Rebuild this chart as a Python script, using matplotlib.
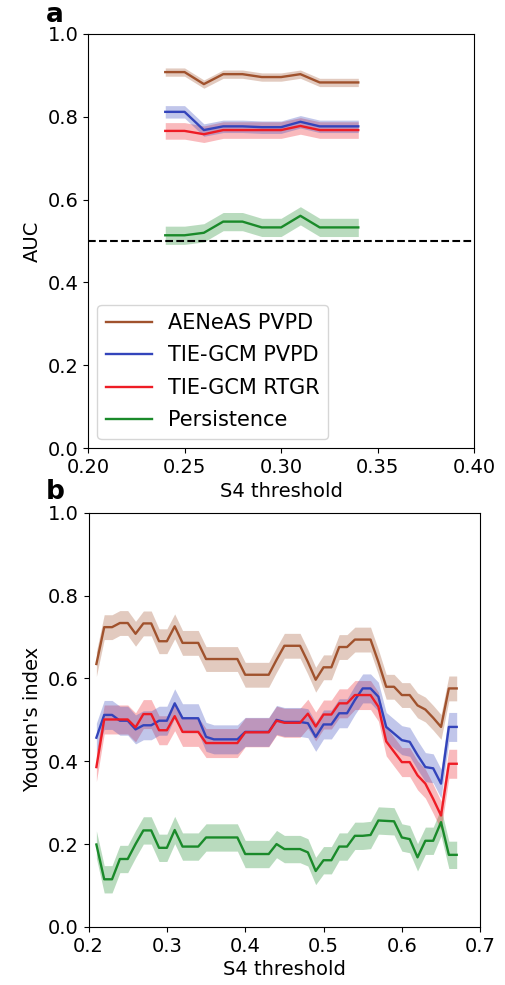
import numpy as np
import matplotlib
matplotlib.use('Agg')
import matplotlib.pyplot as plt

plt.rcParams['font.family'] = ['DejaVu Sans']
plt.rcParams['font.size'] = 14

COLORS = {'brown': '#a0522d', 'blue': '#3344bb', 'red': '#ee1c25', 'green': '#1a8a2a'}
LABELS = ['AENeAS PVPD', 'TIE-GCM PVPD', 'TIE-GCM RTGR', 'Persistence']

# panel a: AUC
s4_a = [0.24, 0.25, 0.26, 0.27, 0.28, 0.29, 0.30, 0.31, 0.32, 0.33, 0.34]
auc_aeneas = [0.908, 0.908, 0.879, 0.903, 0.903, 0.896, 0.896, 0.903, 0.883, 0.883, 0.883]
auc_tie_pvpd = [0.812, 0.812, 0.768, 0.777, 0.777, 0.775, 0.775, 0.788, 0.777, 0.777, 0.777]
auc_tie_rtgr = [0.766, 0.766, 0.758, 0.768, 0.768, 0.768, 0.768, 0.778, 0.768, 0.768, 0.768]
auc_persist = [0.514, 0.514, 0.520, 0.547, 0.547, 0.533, 0.533, 0.561, 0.533, 0.533, 0.533]
auc_err = [0.01, 0.015, 0.02, 0.022]

# panel b: Youden's index
s4_b = [0.21, 0.22, 0.23, 0.24, 0.25, 0.26, 0.27, 0.28, 0.29, 0.30,
        0.31, 0.32, 0.33, 0.34, 0.35, 0.36, 0.37, 0.38, 0.39, 0.40,
        0.41, 0.42, 0.43, 0.44, 0.45, 0.46, 0.47, 0.48, 0.49, 0.50,
        0.51, 0.52, 0.53, 0.54, 0.55, 0.56, 0.57, 0.58, 0.59, 0.60,
        0.61, 0.62, 0.63, 0.64, 0.65, 0.66, 0.67]
yi_aeneas = [0.635, 0.724, 0.724, 0.734, 0.734, 0.708, 0.733, 0.733, 0.690, 0.690,
             0.726, 0.686, 0.686, 0.686, 0.647, 0.647, 0.647, 0.647, 0.647, 0.609,
             0.609, 0.609, 0.609, 0.645, 0.679, 0.679, 0.679, 0.640, 0.597, 0.627,
             0.627, 0.676, 0.676, 0.694, 0.694, 0.694, 0.640, 0.580, 0.580, 0.560,
             0.560, 0.535, 0.525, 0.505, 0.483, 0.576, 0.576]
yi_tie_pvpd = [0.457, 0.512, 0.512, 0.498, 0.498, 0.477, 0.487, 0.487, 0.498, 0.498,
               0.540, 0.504, 0.504, 0.504, 0.459, 0.453, 0.453, 0.453, 0.453, 0.471,
               0.471, 0.471, 0.471, 0.500, 0.495, 0.495, 0.495, 0.492, 0.459, 0.489,
               0.489, 0.516, 0.516, 0.548, 0.576, 0.576, 0.556, 0.483, 0.467, 0.451,
               0.447, 0.415, 0.386, 0.383, 0.346, 0.483, 0.483]
yi_tie_rtgr = [0.386, 0.501, 0.501, 0.501, 0.501, 0.482, 0.514, 0.514, 0.475, 0.475,
               0.509, 0.471, 0.471, 0.471, 0.444, 0.444, 0.444, 0.444, 0.444, 0.470,
               0.470, 0.470, 0.470, 0.498, 0.493, 0.493, 0.493, 0.515, 0.484, 0.513,
               0.513, 0.540, 0.540, 0.560, 0.560, 0.560, 0.532, 0.448, 0.423, 0.398,
               0.398, 0.366, 0.346, 0.309, 0.269, 0.394, 0.394]
yi_persist = [0.199, 0.115, 0.115, 0.164, 0.164, 0.200, 0.233, 0.233, 0.191, 0.191,
              0.234, 0.194, 0.194, 0.194, 0.216, 0.216, 0.216, 0.216, 0.216, 0.176,
              0.176, 0.176, 0.176, 0.200, 0.188, 0.188, 0.188, 0.180, 0.135, 0.161,
              0.161, 0.194, 0.194, 0.220, 0.220, 0.222, 0.257, 0.256, 0.255, 0.216,
              0.212, 0.168, 0.208, 0.208, 0.253, 0.174, 0.174]
yi_err = [0.03, 0.035, 0.035, 0.033]

# bands: blue drawn over red so the overlap reads purple
FILL_Z = [1.3, 1.4, 1.2, 1.1]


def draw(ax, x, series, errs):
    for y, err, col, lab, z in zip(series, errs, COLORS.values(), LABELS, FILL_Z):
        y = np.array(y)
        ax.fill_between(x, y - err, y + err, color=col, alpha=0.3, lw=0, zorder=z)
        ax.plot(x, y, color=col, lw=1.7, label=lab, zorder=2)


fig = plt.figure(figsize=(5.06, 9.85), dpi=100)
ax1 = fig.add_axes([0.174, 0.545, 0.763, 0.4205])
ax2 = fig.add_axes([0.175, 0.059, 0.774, 0.4203])

draw(ax1, s4_a, [auc_aeneas, auc_tie_pvpd, auc_tie_rtgr, auc_persist], auc_err)
ax1.axhline(0.5, color='k', ls='--', lw=1.5)
ax1.set_xlim(0.2, 0.4)
ax1.set_ylim(0.0, 1.0)
ax1.set_xticks([0.20, 0.25, 0.30, 0.35, 0.40])
ax1.set_xticklabels(['0.20', '0.25', '0.30', '0.35', '0.40'])
ax1.set_yticks([0.0, 0.2, 0.4, 0.6, 0.8, 1.0])
ax1.set_xlabel('S4 threshold', labelpad=4)
ax1.set_ylabel('AUC')
ax1.legend(loc='lower left', fontsize=15, handlelength=2.2, labelspacing=0.6,
           borderaxespad=0.45)

draw(ax2, s4_b, [yi_aeneas, yi_tie_pvpd, yi_tie_rtgr, yi_persist], yi_err)
ax2.set_xlim(0.2, 0.7)
ax2.set_ylim(0.0, 1.0)
ax2.set_xticks([0.2, 0.3, 0.4, 0.5, 0.6, 0.7])
ax2.set_yticks([0.0, 0.2, 0.4, 0.6, 0.8, 1.0])
ax2.set_xlabel('S4 threshold', labelpad=3)
ax2.set_ylabel("Youden's index")

fig.text(0.09, 0.985, 'a', fontsize=19, fontweight='bold', va='center')
fig.text(0.09, 0.501, 'b', fontsize=19, fontweight='bold', va='center')

fig.savefig('out.png', dpi=100)
